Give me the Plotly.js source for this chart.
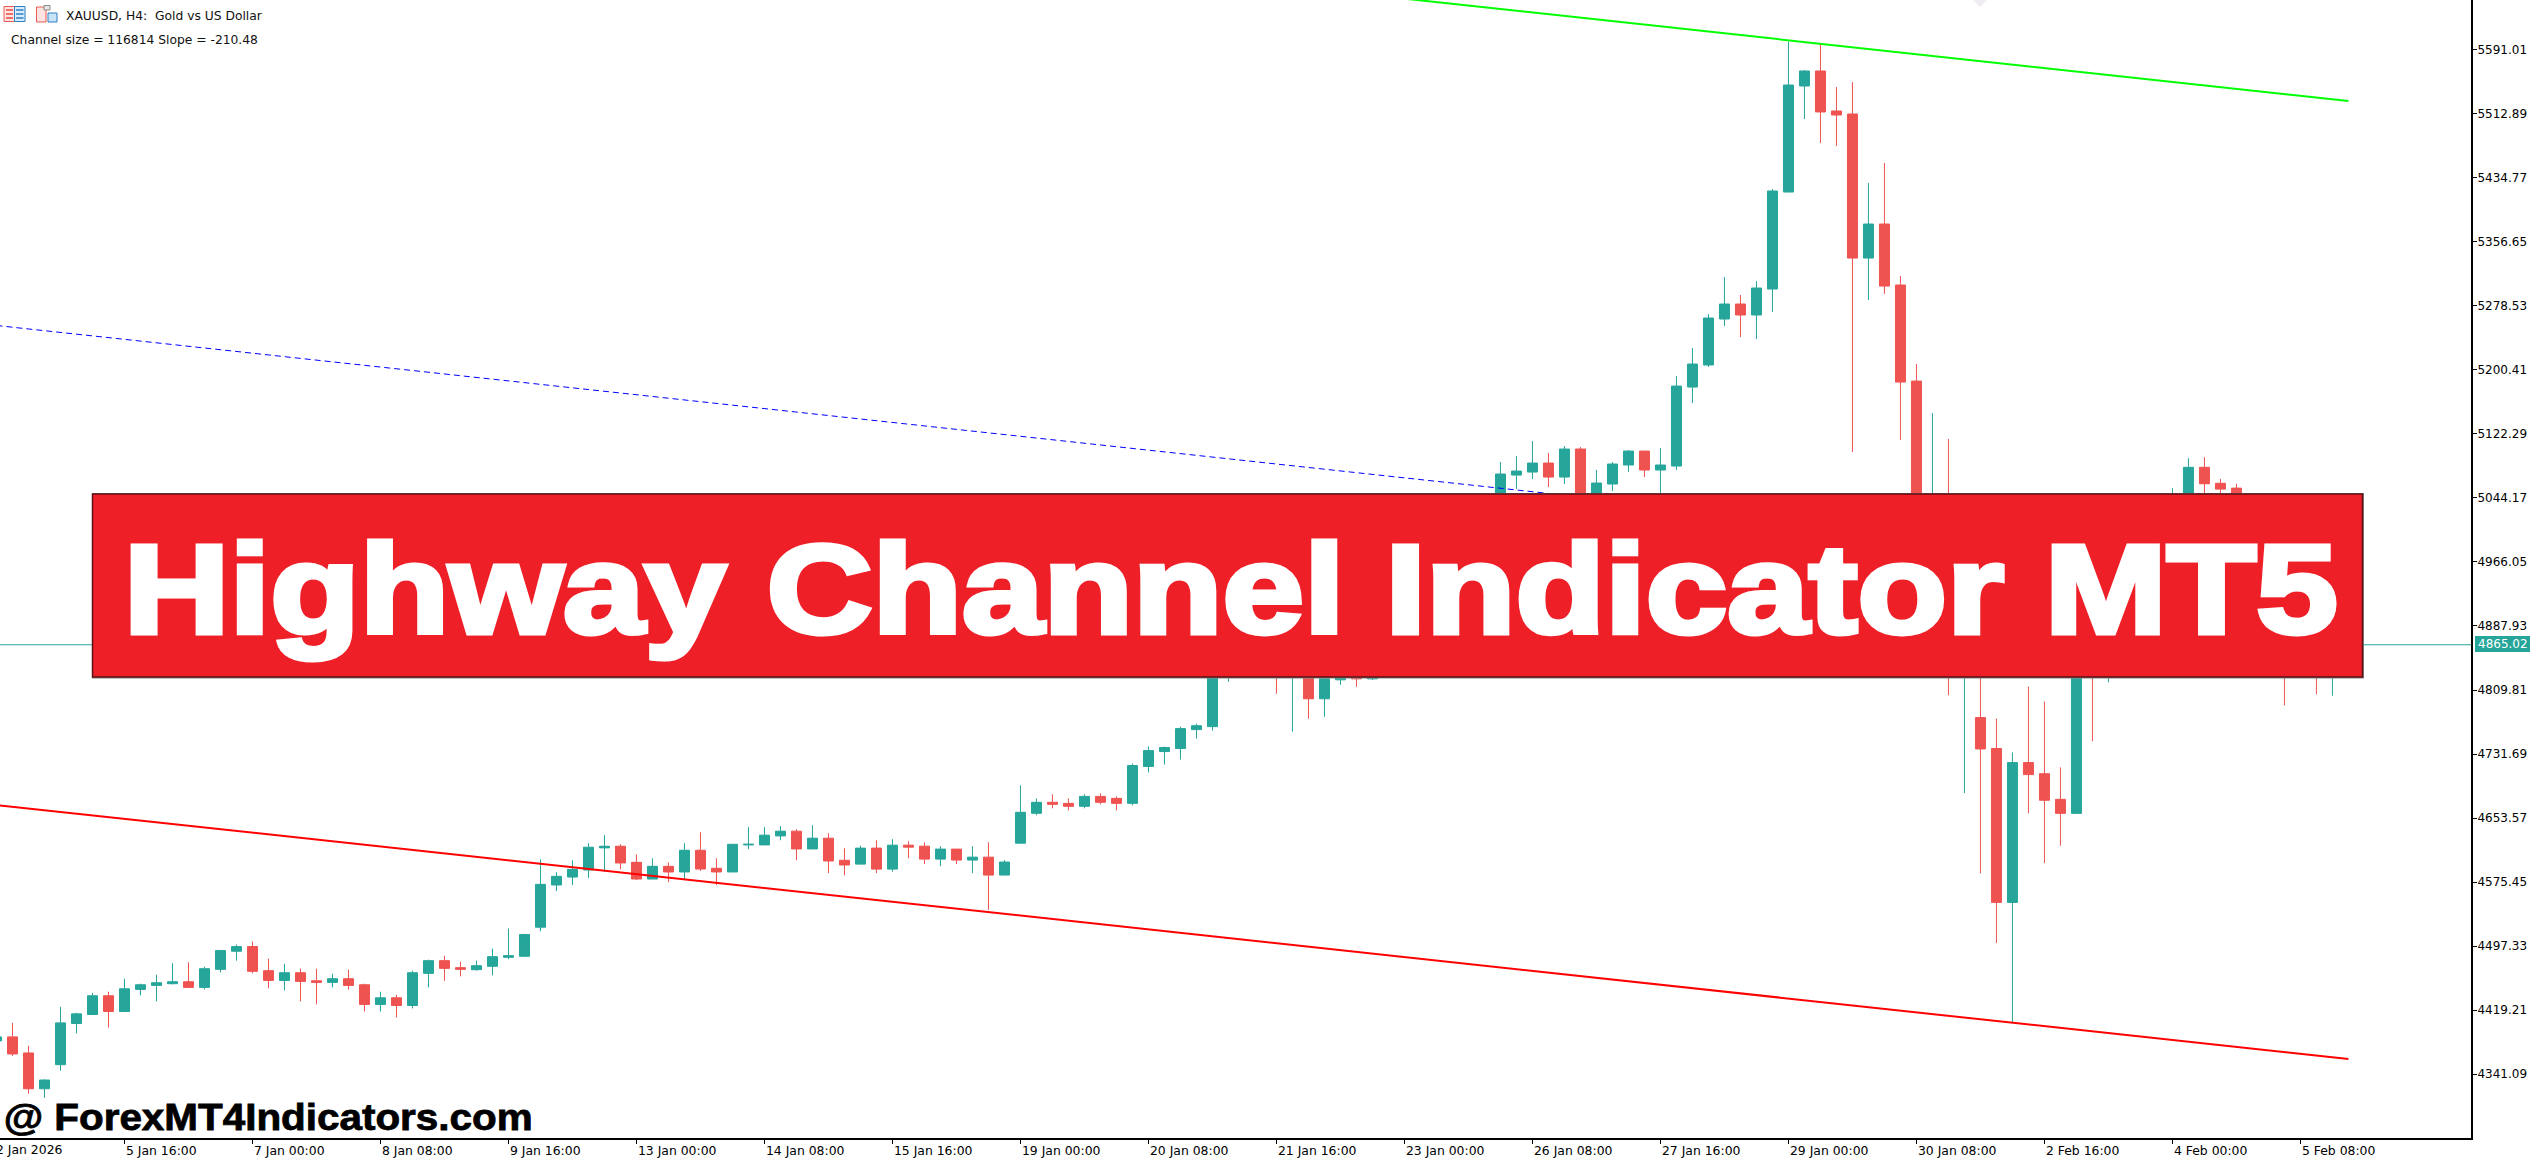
<!DOCTYPE html>
<html><head><meta charset="utf-8">
<script src="https://cdn.plot.ly/plotly-3.0.1.min.js"></script>
<style>html,body{margin:0;padding:0;background:#fff;overflow:hidden}#c{width:2530px;height:1158px}</style>
</head><body><div id="c"></div>
<script>
const opens=[4381.7,4386.6,4367,4323.3,4352.7,4402.9,4413.9,4436.8,4417.6,4444.5,
4449.4,4451.5,4453.9,4447,4469,4491.1,4496.8,4467.4,4455.5,4464.9,
4455.1,4453.1,4457.6,4450.2,4426.2,4434.3,4424.9,4464.1,4479.6,4471.1,
4468.6,4472.7,4483.7,4484.9,4520.4,4571.9,4581.6,4590.2,4617.2,4619.2,
4599.6,4579.2,4594.7,4587.8,4614.3,4592.3,4587.8,4620.8,4620.8,4631.8,
4637.6,4615.9,4629,4602.1,4597.4,4616.9,4591.3,4620.5,4619.3,4603.5,
4615.7,4602.3,4605.9,4584,4622.9,4659.4,4672.8,4671.5,4667.9,4680,
4677.6,4671.5,4716.5,4734.7,4738.4,4761.5,4765.1,4835,4860,4890,
4880,4835,4865,4799.1,4822.2,4830,4823.4,4860,4880,4930,
4915,4960,4990,5015,5035,5072,5075.7,5086.7,5069.6,5103.8,
5040,5061.1,5084.3,5101.3,5078.2,5083,5179.4,5206.3,5262.4,5280.7,
5267.3,5299,5417.3,5546.7,5565,5516.2,5512.5,5336.8,5378.3,5303.9,
5186.7,4960,4985,4885,4776.2,4738.4,4550.7,4721.3,4707.7,4676.4,
4659.3,4900,4855,4905,4960,4985,5000,5030,5081.5,5062,
5056.1,5030,4990,4950,4890,4875,4850];
const highs=[4392,4403.7,4375.6,4334.8,4423.3,4416,4440.4,4441.7,4457.6,4451.5,
4462.5,4476.4,4477.6,4472.3,4492.7,4499.2,4502.9,4482.1,4475.9,4469.8,
4469.8,4463.7,4468.6,4451.5,4441.7,4438,4467.4,4480.9,4485.7,4478.4,
4479.6,4494.3,4518.8,4512.3,4603.3,4587.4,4602.1,4622.9,4632.7,4621.6,
4609.4,4604.5,4599.6,4622.9,4636.3,4604.5,4621.6,4642.5,4642.5,4643.7,
4640,4644.9,4635.1,4616.7,4620,4626.6,4627.8,4625.4,4624.1,4619.3,
4615.7,4619.3,4624.1,4602.3,4693.4,4677.6,4682.5,4677.6,4682.5,4683.7,
4680,4720.1,4740.8,4740.8,4765.1,4768.7,4855,4870,4895,4900,
4890,4885,4875,4830,4840,4838,4870,4905,4940,4945,
4970,5000,5025,5045,5087.9,5095.2,5113.5,5098.9,5107.4,5106.2,
5078.2,5087.9,5102.6,5101.3,5105,5192.8,5227,5268.5,5313.6,5291.7,
5308.7,5421,5600.8,5566.2,5597.9,5545.4,5551.6,5428.3,5452.7,5314.9,
5207.5,5147.7,5116,4960,4860,4775,4733.7,4814,4795.7,4715.4,
4890,4915,4915,4975,5000,5035,5056.1,5092.7,5093.9,5067.3,
5061.4,5040,5000,4965,4905,4890,4880];
const lows=[4372,4363.3,4317.2,4312.3,4345.4,4390.7,4413.9,4398,4417.6,4437.2,
4429.8,4450.6,4447,4444.5,4465.3,4479.6,4464.1,4445.8,4443.3,4429.8,
4426.2,4447,4444.5,4417.6,4417.6,4410.2,4421.3,4447,4455.1,4460.4,
4467.4,4461.7,4481.3,4484.9,4515.5,4564.5,4571.9,4580.4,4587.8,4591,
4578,4579.2,4575.5,4579.2,4589,4571.9,4587.8,4615.5,4620.8,4626.5,
4602.1,4615.9,4586.5,4583.7,4597,4586.5,4588.1,4604.7,4597.4,4595,
4597.4,4586.5,4541.5,4584,4622.9,4657,4665.5,4663,4665.5,4670.3,
4663,4669.1,4709.2,4718.9,4725,4750.5,4760.2,4819.8,4845,4840,
4805.2,4759,4774.8,4777.2,4816,4813.7,4822,4850,4885,4905,
4905,4950,4980,5005,5025,5055,5067.2,5057.4,5061.1,5030,
5030,5052.5,5075.7,5069.6,5040,5078.2,5159.9,5203.8,5253.9,5240.4,
5238,5270.9,5417.3,5506.4,5477.1,5473.5,5100.1,5285.6,5292.9,5114.8,
4930,4900,4803.4,4684.1,4586.1,4501,4404.8,4659.3,4598.5,4619.7,
4659.3,4747.3,4819.3,4890,4945,4970,4985,5015,5045,5040,
5010,4975,4935,4791,4840,4804.6,4802.8];
const closes=[4386.6,4365.8,4323.3,4334,4403.7,4414.7,4436.8,4417.6,4445.3,4450.2,
4452.7,4453.9,4447,4469.8,4491.9,4496.8,4466.6,4455.5,4464.9,4454.3,
4453.1,4457.6,4449.4,4426.2,4434.3,4424.9,4464.9,4479.6,4470.2,4469,
4473.5,4484.5,4485.7,4511.5,4572.7,4582.5,4591,4618,4619.2,4598.8,
4579.2,4594.7,4587.8,4614.3,4591.4,4587.8,4621.6,4621.6,4632.7,4637.6,
4615.9,4629,4601.2,4596.3,4616.9,4591.3,4620.5,4618.1,4603.5,4615.7,
4602.3,4605.9,4584,4599.9,4660.6,4672.8,4670.3,4667.9,4680,4672.8,
4671.5,4717.7,4735.9,4739.6,4762.7,4766.3,4850,4860,4885,4870,
4850,4870,4799.1,4823.4,4830,4823.4,4860,4895,4930,4915,
4960,4990,5015,5040,5073.3,5076.9,5086.7,5069.6,5103.8,5040,
5062.3,5085.5,5101.3,5078.2,5084.3,5180.6,5207.5,5263.6,5280.7,5267.3,
5300.2,5418.6,5547.9,5565,5515,5511.3,5336.8,5378.3,5302.6,5185.5,
4985,5000,4885,4920,4737.9,4550.7,4721.3,4706.6,4675.3,4659.3,
4870,4860,4905,4960,4985,5020,5030,5081.5,5061.4,5054.9,
5030,4990,4950,4890,4870,4855,4865.02];
const barIndex=opens.map((_,k)=>k);
const lineEnds=[0,147];
const upperLine=[5839.5,5528.4];
const middleLine=[5254.5,4944];
const lowerLine=[4669.5,4359.6];
const lastPrice=4865.02;
const priceTicks=[5591.01,5512.89,5434.77,5356.65,5278.53,5200.41,5122.29,5044.17,4966.05,4887.93,4809.81,4731.69,4653.57,4575.45,4497.33,4419.21,4341.09];
const timeTickBars=[8,16,24,32,40,48,56,64,72,80,88,96,104,112,120,128,136,144];
const timeTickLabels=["5 Jan 16:00","7 Jan 00:00","8 Jan 08:00","9 Jan 16:00","13 Jan 00:00","14 Jan 08:00","15 Jan 16:00","19 Jan 00:00","20 Jan 08:00","21 Jan 16:00","23 Jan 00:00","26 Jan 08:00","27 Jan 16:00","29 Jan 00:00","30 Jan 08:00","2 Feb 16:00","4 Feb 00:00","5 Feb 08:00"];
const bannerText='Highway Channel Indicator MT5';
const siteText='@ ForexMT4Indicators.com';
const UP='#26A69A',DOWN='#EF5350',FONT='DejaVu Sans, Tahoma, sans-serif',ARIAL='Liberation Sans, Arial, sans-serif';
const W=2471,H=1138; // plot area in px
const px=(x)=>x/W, py=(y)=>1-y/H;
function box(x0,y0,x1,y1,fill,line,lw){return {type:'rect',xref:'paper',yref:'paper',x0:px(x0),x1:px(x1),y0:py(y0),y1:py(y1),fillcolor:fill,line:{color:line||fill,width:lw||0},layer:'above'};}
function hbar(x0,x1,y,c){return {type:'line',xref:'paper',yref:'paper',x0:px(x0),x1:px(x1),y0:py(y),y1:py(y),line:{color:c,width:1.5},layer:'above'};}
const traces=[
 {type:'candlestick',x:barIndex,open:opens,high:highs,low:lows,close:closes,whiskerwidth:0,
  increasing:{line:{color:UP,width:1},fillcolor:UP},decreasing:{line:{color:DOWN,width:1},fillcolor:DOWN},hoverinfo:'skip',showlegend:false},
 {type:'scatter',mode:'lines',x:lineEnds,y:upperLine,line:{color:'#00FF00',width:2},hoverinfo:'skip',showlegend:false},
 {type:'scatter',mode:'lines',x:lineEnds,y:middleLine,line:{color:'#0000FF',width:1,dash:'6px,4px'},hoverinfo:'skip',showlegend:false},
 {type:'scatter',mode:'lines',x:lineEnds,y:lowerLine,line:{color:'#FF0000',width:2},hoverinfo:'skip',showlegend:false}
];
const shapes=[
 {type:'line',xref:'paper',yref:'y',x0:0,x1:1,y0:lastPrice,y1:lastPrice,line:{color:UP,width:1},layer:'below'},
 box(92,493,2364,678.5,'#8a8a8a'),
 box(92.5,494,2362.5,677,'#EE1F27','#5e1216',1.5),
 box(2475,636,2530,652,UP),
 {type:'path',xref:'paper',yref:'paper',path:`M ${px(1973)} ${py(0)} L ${px(1987)} ${py(0)} L ${px(1980)} ${py(7)} Z`,fillcolor:'#efecf2',line:{width:0},layer:'above'},
 box(4,6.5,14.5,21.5,'#fde3e1','#ea5a50',1),box(14.5,6.5,25,21.5,'#d8ecfb','#2f7fc1',1),
 hbar(6,13,10,'#e8483f'),hbar(6,13,14,'#e8483f'),hbar(6,13,18,'#e8483f'),
 hbar(16,23.5,10,'#2f7fc1'),hbar(16,23.5,14,'#2f7fc1'),hbar(16,23.5,18,'#2f7fc1'),
 box(36.5,7,46,22,'#fde3e1','#ea5a50',1),box(48,13,57,22,'#c7e4f8','#2f7fc1',1),box(44,5.5,50,10,'#e6e6e6','#8a8a8a',1)
];
const annotations=[
 {xref:'paper',yref:'paper',x:px(1230),y:py(589),xanchor:'center',yanchor:'middle',showarrow:false,
  text:bannerText,font:{family:ARIAL,size:127,weight:700,color:'#FFFFFF'}},
 {xref:'paper',yref:'paper',x:px(268),y:py(1117),xanchor:'center',yanchor:'middle',showarrow:false,
  text:siteText,font:{family:ARIAL,size:37,weight:700,color:'#000000'}},
 {xref:'paper',yref:'paper',x:px(63.5),y:py(16),xanchor:'left',yanchor:'middle',showarrow:false,
  text:'XAUUSD, H4:  Gold vs US Dollar',font:{family:FONT,size:12.3,color:'#111'}},
 {xref:'paper',yref:'paper',x:px(8.5),y:py(40),xanchor:'left',yanchor:'middle',showarrow:false,
  text:'Channel size = 116814 Slope = -210.48',font:{family:FONT,size:12.3,color:'#111'}},
 {xref:'paper',yref:'paper',x:px(2476),y:py(644),xanchor:'left',yanchor:'middle',showarrow:false,
  text:String(lastPrice),font:{family:FONT,size:12,color:'#FFFFFF'}},
 {xref:'paper',yref:'paper',x:px(-6),y:py(1149.5),xanchor:'left',yanchor:'middle',showarrow:false,
  text:'2 Jan 2026',font:{family:FONT,size:12.4,color:'#000'}}
];
const layout={width:2530,height:1158,margin:{l:0,r:59,t:0,b:20,pad:0},paper_bgcolor:'#fff',plot_bgcolor:'#fff',
 showlegend:false,hovermode:false,boxgap:0.375,boxgroupgap:0,dragmode:false,
 xaxis:{type:'linear',range:[0.21875,154.66],showgrid:false,zeroline:false,rangeslider:{visible:false},
  tickmode:'array',tickvals:timeTickBars,ticktext:timeTickLabels,ticks:'outside',ticklen:4,tickwidth:1,tickcolor:'#000',
  ticklabelposition:'outside right',showline:true,linecolor:'#000',linewidth:2,tickfont:{family:FONT,size:12.4,color:'#000'}},
 yaxis:{side:'right',range:[4263.25,5651.61],showgrid:false,zeroline:false,tickmode:'array',tickvals:priceTicks,
  ticktext:priceTicks.map(v=>v.toFixed(2)),ticks:'outside',ticklen:4,tickwidth:1,tickcolor:'#000',ticklabelstandoff:-2,
  showline:true,linecolor:'#000',linewidth:2,tickfont:{family:FONT,size:12,color:'#000'}},
 shapes,annotations};
Plotly.newPlot('c',traces,layout,{displayModeBar:false,staticPlot:true}).then(()=>{
 // stretch the two heavy captions to the width they have in the picture
 const fit=(content,len,stroke)=>{
  document.querySelectorAll('.annotation-text').forEach(t=>{
   if(t.textContent===content){
    t.setAttribute('textLength',len);t.setAttribute('lengthAdjust','spacingAndGlyphs');
    t.style.stroke=t.style.fill;t.style.strokeWidth=stroke+'px';t.style.paintOrder='stroke';
   }
  });
 };
 fit(bannerText,2214,5);
 fit(siteText,529,0.8);
});
</script></body></html>
